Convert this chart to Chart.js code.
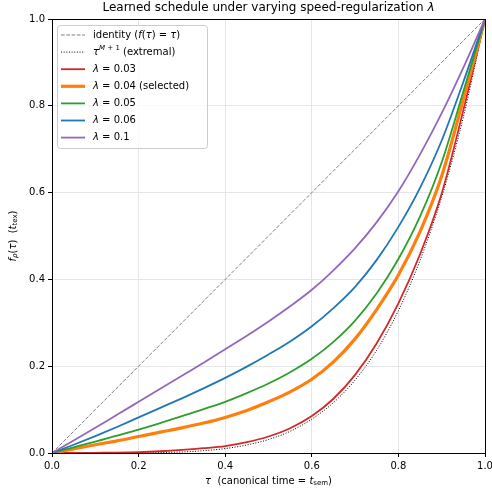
<!DOCTYPE html>
<html>
<head>
<meta charset="utf-8">
<script src="https://cdn.jsdelivr.net/npm/chart.js@4.4.1/dist/chart.umd.min.js"></script>
<style>
  html, body { margin: 0; padding: 0; background: #fff; }
  #wrap { width: 492px; height: 490px; position: relative; }
</style>
</head>
<body>
<div id="wrap"><canvas id="lineChart" width="492" height="490"></canvas></div>
<script>
// values, tau every 0.05
const tau      = [0, 0.05, 0.1, 0.15, 0.2, 0.25, 0.3, 0.35, 0.4, 0.45, 0.5,
                  0.55, 0.6, 0.65, 0.7, 0.75, 0.8, 0.85, 0.9, 0.95, 1.0];
const extremal = [0, 0, 0, 0.0001, 0.0003, 0.001, 0.0024, 0.0053, 0.0102, 0.0185, 0.031,
                  0.05, 0.078, 0.116, 0.168, 0.237, 0.328, 0.444, 0.59, 0.774, 1];
const lam003   = [0, 0, 0.0005, 0.001, 0.002, 0.004, 0.007, 0.011, 0.016, 0.025, 0.038,
                  0.057, 0.085, 0.125, 0.18, 0.253, 0.345, 0.458, 0.598, 0.79, 1];
const lam004   = [0, 0.0095, 0.019, 0.028, 0.038, 0.048, 0.058, 0.069, 0.082, 0.098, 0.118,
                  0.141, 0.17, 0.21, 0.263, 0.331, 0.41, 0.51, 0.638, 0.815, 1];
const lam005   = [0, 0.013, 0.026, 0.04, 0.054, 0.069, 0.085, 0.101, 0.118, 0.138, 0.16,
                  0.186, 0.217, 0.256, 0.305, 0.368, 0.447, 0.545, 0.67, 0.833, 1];
const lam006   = [0, 0.019, 0.039, 0.06, 0.082, 0.104, 0.126, 0.149, 0.173, 0.199, 0.227,
                  0.257, 0.292, 0.334, 0.383, 0.445, 0.521, 0.611, 0.72, 0.855, 1];
const lam01    = [0, 0.029, 0.058, 0.088, 0.118, 0.148, 0.178, 0.208, 0.239, 0.27, 0.303,
                  0.338, 0.376, 0.421, 0.472, 0.532, 0.603, 0.688, 0.783, 0.888, 1];
const identityX = [0, 1];
const identityY = [0, 1];
const tickValues = [0, 0.2, 0.4, 0.6, 0.8, 1.0];

const FONT = '"DejaVu Sans", "Liberation Sans", sans-serif';
const pts = (xs, ys) => xs.map((x, i) => ({ x: x, y: ys[i] }));

// legend rows: [segments, color, width, dash]
const legendRows = [
  [[['identity (', 'n'], ['f', 'i'], ['(', 'n'], ['τ', 'i'], [') = ', 'n'], ['τ', 'i'], [')', 'n']], 'gray', 1, [3.7, 1.6]],
  [[['τ', 'i'], ['M', 'supi'], [' + 1', 'sup'], [' (extremal)', 'n']], '#000', 1, [1, 1.65]],
  [[['λ', 'i'], [' = 0.03', 'n']], '#d62728', 1.8, []],
  [[['λ', 'i'], [' = 0.04 (selected)', 'n']], '#ff7f0e', 3.2, []],
  [[['λ', 'i'], [' = 0.05', 'n']], '#2ca02c', 1.8, []],
  [[['λ', 'i'], [' = 0.06', 'n']], '#1f77b4', 1.8, []],
  [[['λ', 'i'], [' = 0.1', 'n']], '#9467bd', 1.8, []]
];

function segFont(kind, size) {
  if (kind === 'i') return 'italic ' + size + 'px ' + FONT;
  if (kind === 'sub' || kind === 'sup') return Math.round(size * 0.7) + 'px ' + FONT;
  if (kind === 'subi' || kind === 'supi') return 'italic ' + Math.round(size * 0.7) + 'px ' + FONT;
  return size + 'px ' + FONT;
}
function segShift(kind, size) {
  if (kind === 'sub' || kind === 'subi') return size * 0.25;
  if (kind === 'sup' || kind === 'supi') return -size * 0.35;
  return 0;
}
function richWidth(ctx, segs, size) {
  let w = 0;
  segs.forEach(s => { ctx.font = segFont(s[1], size); w += ctx.measureText(s[0]).width; });
  return w;
}
function drawRich(ctx, segs, x, y, size) {
  ctx.textBaseline = 'middle';
  ctx.textAlign = 'left';
  segs.forEach(s => {
    ctx.font = segFont(s[1], size);
    ctx.fillText(s[0], x, y + segShift(s[1], size));
    x += ctx.measureText(s[0]).width;
  });
}

const decorations = {
  id: 'decorations',
  afterDraw(chart) {
    const ctx = chart.ctx;
    const a = chart.chartArea;
    ctx.save();
    ctx.fillStyle = '#000';

    // frame
    ctx.strokeStyle = '#000';
    ctx.lineWidth = 1;
    ctx.strokeRect(Math.round(a.left) + 0.5, Math.round(a.top) + 0.5,
                   Math.round(a.right - a.left), Math.round(a.bottom - a.top));

    // title
    const title = [['Learned schedule under varying speed-regularization ', 'n'], ['λ', 'i']];
    const tw = richWidth(ctx, title, 12);
    drawRich(ctx, title, (a.left + a.right) / 2 - tw / 2, 8, 12);

    // x label
    const xl = [['τ', 'i'], ['  (canonical time = ', 'n'], ['t', 'i'], ['sem', 'sub'], [')', 'n']];
    const xw = richWidth(ctx, xl, 10);
    drawRich(ctx, xl, (a.left + a.right) / 2 - xw / 2, 481, 10);

    // y label
    const yl = [['f', 'i'], ['ρ', 'subi'], ['(', 'n'], ['τ', 'i'], [')  (', 'n'], ['t', 'i'], ['tex', 'sub'], [')', 'n']];
    const yw = richWidth(ctx, yl, 10);
    ctx.save();
    ctx.translate(13, (a.top + a.bottom) / 2);
    ctx.rotate(-Math.PI / 2);
    drawRich(ctx, yl, -yw / 2, 0, 10);
    ctx.restore();

    // legend
    const lx = 57, ly = 25, lw = 150, lh = 123;
    ctx.fillStyle = 'rgba(255,255,255,0.8)';
    ctx.strokeStyle = '#cccccc';
    ctx.lineWidth = 1;
    ctx.beginPath();
    ctx.roundRect(lx + 0.5, ly + 0.5, lw, lh, 3);
    ctx.fill();
    ctx.stroke();
    legendRows.forEach((row, i) => {
      const y = 35 + i * 17.1;
      ctx.strokeStyle = row[1];
      ctx.lineWidth = row[2];
      ctx.setLineDash(row[3]);
      ctx.beginPath();
      ctx.moveTo(61, y);
      ctx.lineTo(85, y);
      ctx.stroke();
      ctx.setLineDash([]);
      ctx.fillStyle = '#000';
      drawRich(ctx, row[0], 93, y, 10);
    });
    ctx.restore();
  }
};

function lineSet(label, xs, ys, color, width, dash, order) {
  return {
    label: label,
    data: pts(xs, ys),
    borderColor: color,
    borderWidth: width,
    borderDash: dash,
    pointRadius: 0,
    fill: false,
    cubicInterpolationMode: 'monotone',
    order: order
  };
}

const axisCommon = {
  type: 'linear',
  min: 0,
  max: 1,
  grid: { color: '#e6e6e6', tickColor: '#000', tickLength: 4, lineWidth: 1 },
  border: { color: '#000', width: 1 },
  afterBuildTicks: scale => { scale.ticks = tickValues.map(v => ({ value: v })); }
};

window.scheduleChart = new Chart(document.getElementById('lineChart'), {
  type: 'line',
  data: {
    datasets: [
      lineSet('identity', identityX, identityY, 'gray', 1, [3.7, 1.6], 7),
      lineSet('extremal', tau, extremal, '#000', 1, [1, 1.65], 6),
      lineSet('λ = 0.03', tau, lam003, '#d62728', 1.8, [], 5),
      lineSet('λ = 0.04 (selected)', tau, lam004, '#ff7f0e', 3.2, [], 4),
      lineSet('λ = 0.05', tau, lam005, '#2ca02c', 1.8, [], 3),
      lineSet('λ = 0.06', tau, lam006, '#1f77b4', 1.8, [], 2),
      lineSet('λ = 0.1', tau, lam01, '#9467bd', 1.8, [], 1)
    ]
  },
  options: {
    responsive: false,
    animation: false,
    devicePixelRatio: 1,
    layout: { padding: { left: 0, top: 19, right: 7, bottom: 0 } },
    plugins: { legend: { display: false }, title: { display: false }, tooltip: { enabled: false } },
    scales: {
      x: Object.assign({}, axisCommon, {
        ticks: { color: '#000', font: { family: FONT, size: 10 }, padding: 3, maxRotation: 0,
                 callback: v => v.toFixed(1) },
        afterFit: s => { s.height = 37; s.paddingLeft = 0; s.paddingRight = 0; }
      }),
      y: Object.assign({}, axisCommon, {
        ticks: { color: '#000', font: { family: FONT, size: 10 }, padding: 3,
                 callback: v => v.toFixed(1) },
        afterFit: s => { s.width = 52; s.paddingTop = 0; s.paddingBottom = 0; }
      })
    }
  },
  plugins: [decorations]
});
</script>
</body>
</html>
